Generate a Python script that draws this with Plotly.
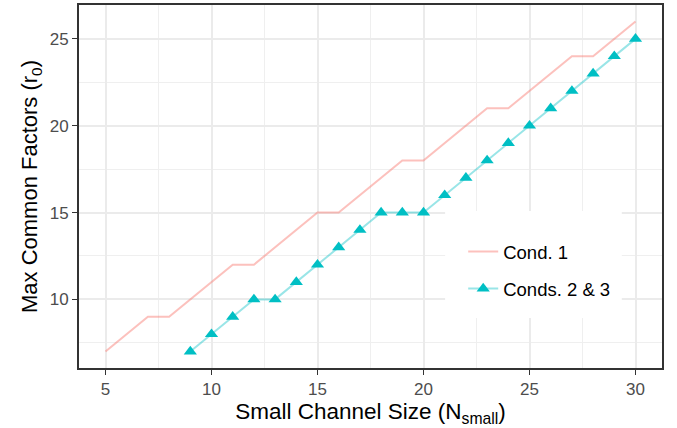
import plotly.graph_objects as go

x_cond1 = list(range(5, 31))
y_cond1 = [7, 8, 9, 9, 10, 11, 12, 12, 13, 14, 15, 15, 16, 17, 18, 18,
           19, 20, 21, 21, 22, 23, 24, 24, 25, 26]
x_cond23 = list(range(9, 31))
y_cond23 = [7, 8, 9, 10, 10, 11, 12, 13, 14, 15, 15, 15, 16, 17, 18, 19,
            20, 21, 22, 23, 24, 25]
x_ticks = [5, 10, 15, 20, 25, 30]
y_ticks = [10, 15, 20, 25]

FONT = "Liberation Sans, Arial, Helvetica"

fig = go.Figure()
fig.add_trace(go.Scatter(
    x=x_cond1, y=y_cond1, mode="lines", name="Cond. 1",
    legendgroup="a",
    line=dict(color="rgba(248,118,109,0.45)", width=2),
))
fig.add_trace(go.Scatter(
    x=x_cond23, y=y_cond23, mode="lines+markers", name="Conds. 2 & 3",
    legendgroup="b",
    line=dict(color="rgba(0,191,196,0.4)", width=2),
    marker=dict(symbol="triangle-up", size=11.5, color="#00BFC4"),
))

axis_common = dict(
    showline=True, linecolor="#333333", linewidth=1.8, mirror=True,
    ticks="outside", ticklen=5, tickcolor="#333333", tickwidth=1.1,
    showgrid=True, gridcolor="#EBEBEB", gridwidth=1.8,
    zeroline=False, automargin=False,
    tickfont=dict(family=FONT, size=17, color="#4D4D4D"),
)

fig.update_xaxes(
    range=[3.75, 31.25], tickvals=x_ticks,
    minor=dict(dtick=2.5, tick0=0, showgrid=True, gridcolor="#EFEFEF", gridwidth=0.9, ticks=""),
    title=dict(text="Small Channel Size (N<sub>small</sub>)", standoff=4,
               font=dict(family=FONT, size=22.5, color="black")),
    **axis_common,
)
fig.update_yaxes(
    range=[6.05, 26.95], tickvals=y_ticks,
    minor=dict(dtick=2.5, tick0=0, showgrid=True, gridcolor="#EFEFEF", gridwidth=0.9, ticks=""),
    title=dict(text="Max Common Factors (r<sub>0</sub>)", standoff=6,
               font=dict(family=FONT, size=22, color="black")),
    **axis_common,
)

# white legend background box (as in the reference); no data falls inside it
fig.add_shape(type="rect", xref="paper", yref="paper",
              x0=0.628, x1=0.931, y0=0.138, y1=0.4325,
              fillcolor="white", line=dict(width=0), layer="above")

fig.update_layout(
    width=677, height=428,
    margin=dict(l=79, r=15, t=5, b=60),
    plot_bgcolor="white", paper_bgcolor="white",
    legend=dict(
        x=0.659, y=0.372, xanchor="left", yanchor="top",
        bgcolor="rgba(0,0,0,0)", borderwidth=0,
        font=dict(family=FONT, size=18.5, color="black"),
        itemwidth=30, traceorder="grouped", tracegroupgap=10,
    ),
    showlegend=True,
)

fig.write_html("out.html",
               config={"displayModeBar": False},
               post_script="document.body.style.margin='0';document.body.style.padding='0';")
